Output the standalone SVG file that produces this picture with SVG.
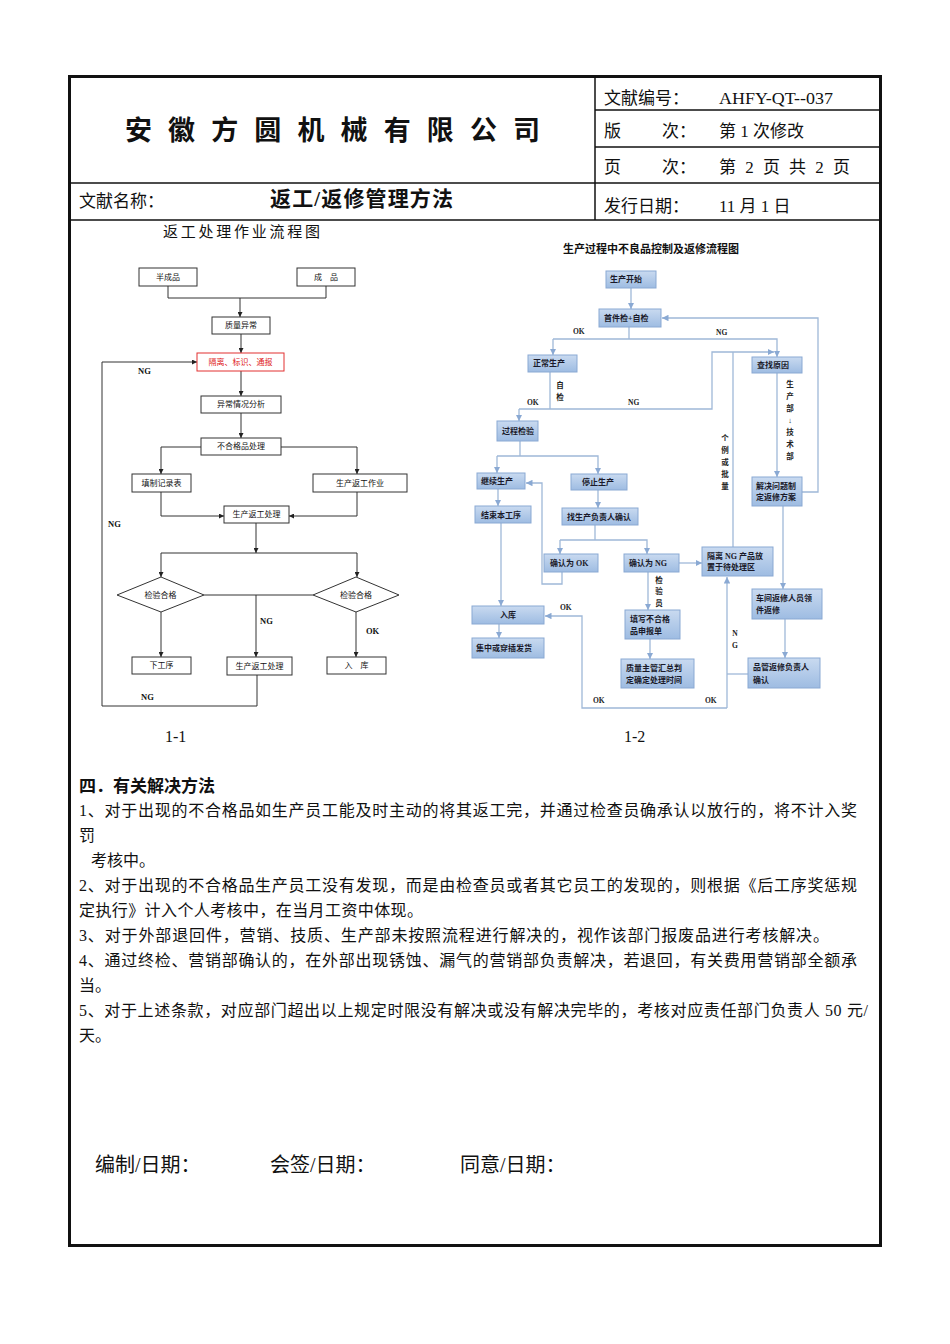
<svg xmlns="http://www.w3.org/2000/svg" width="950" height="1344" viewBox="0 0 950 1344">
<style>
.t{font-family:"Liberation Serif","Noto Sans CJK SC",serif;fill:#111}
.h{font-size:17px}
.b{font-size:16px}
.lbx{font-family:"Liberation Sans","Noto Sans CJK SC",sans-serif;font-size:8px;fill:#111;text-anchor:middle}
.lb{fill:#fff;stroke:#333;stroke-width:1}
.lc{fill:none;stroke:#333;stroke-width:1}
.lab{font-family:"Liberation Serif","Noto Sans CJK SC",serif;font-weight:bold;font-size:8.5px;fill:#111}
.rb{fill:url(#g);stroke:#8aa9d3;stroke-width:1}
.rt{font-family:"Liberation Serif","Noto Sans CJK SC",serif;font-weight:bold;font-size:8px;fill:#1a1a2a}
.rc{fill:none;stroke:#9fb8d8;stroke-width:1.3}
.rl{font-family:"Liberation Serif","Noto Sans CJK SC",serif;font-weight:bold;font-size:7.5px;fill:#222}
.grid{stroke:#111;stroke-width:1.5;fill:none}
</style>
<defs>
<linearGradient id="g" x1="0" y1="0" x2="0" y2="1">
<stop offset="0" stop-color="#c9daf0"/>
<stop offset="1" stop-color="#9ebce2"/>
</linearGradient>
<marker id="ak" viewBox="0 0 10 10" refX="10" refY="5" markerWidth="5" markerHeight="5" orient="auto"><path d="M0,0 L10,5 L0,10 z" fill="#222"/></marker>
<marker id="ab" viewBox="0 0 10 10" refX="10" refY="5" markerWidth="5" markerHeight="5" orient="auto"><path d="M0,0 L10,5 L0,10 z" fill="#8aa9d3"/></marker>
</defs>
<rect width="950" height="1344" fill="#fff"/>

<g id="frame">
<rect x="69.5" y="76.5" width="811" height="1169" fill="none" stroke="#111" stroke-width="3"/>
<line class="grid" x1="595" y1="76" x2="595" y2="220"/>
<line class="grid" x1="595" y1="110" x2="881" y2="110"/>
<line class="grid" x1="595" y1="147" x2="881" y2="147"/>
<line class="grid" x1="69" y1="183" x2="881" y2="183"/>
<line class="grid" x1="69" y1="220" x2="881" y2="220"/>
</g>

<g id="header">
<text class="t" x="125" y="140" font-size="27" font-weight="bold" textLength="415" lengthAdjust="spacing">安徽方圆机械有限公司</text>
<text class="t h" x="604" y="104">文献编号：</text>
<text class="t h" x="719" y="104" textLength="114" lengthAdjust="spacingAndGlyphs">AHFY-QT--037</text>
<text class="t h" x="604" y="137">版</text><text class="t h" x="662" y="137">次：</text>
<text class="t h" x="719" y="137">第 1 次修改</text>
<text class="t h" x="604" y="173">页</text><text class="t h" x="662" y="173">次：</text>
<text class="t h" x="719" y="173" textLength="131" lengthAdjust="spacing">第 2 页 共 2 页</text>
<text class="t h" x="79" y="207">文献名称：</text>
<text class="t" x="270" y="206" font-size="21" font-weight="bold" textLength="183" lengthAdjust="spacing">返工/返修管理方法</text>
<text class="t h" x="604" y="212">发行日期：</text>
<text class="t h" x="719" y="212">11 月 1 日</text>
</g>

<g id="chart1">
<text class="t" x="163" y="237" font-size="15" fill="#333" textLength="157" lengthAdjust="spacing">返工处理作业流程图</text>
<g id="c1-connectors">
<path class="lc" d="M168,286 V298 H326 V286"/>
<path class="lc" d="M240,298 V317" marker-end="url(#ak)"/>
<path class="lc" d="M241,334 V353" marker-end="url(#ak)"/>
<path class="lc" d="M241,371 V396" marker-end="url(#ak)"/>
<path class="lc" d="M241,413 V438" marker-end="url(#ak)"/>
<path class="lc" d="M201,447 H161 V474" marker-end="url(#ak)"/>
<path class="lc" d="M281,447 H357 V474" marker-end="url(#ak)"/>
<path class="lc" d="M161,492 V516 H224" marker-end="url(#ak)"/>
<path class="lc" d="M357,492 V516 H289" marker-end="url(#ak)"/>
<path class="lc" d="M256,523 V553" marker-end="url(#ak)"/>
<path class="lc" d="M256,553 H161 V577" marker-end="url(#ak)"/>
<path class="lc" d="M256,553 H357 V577" marker-end="url(#ak)"/>
<path class="lc" d="M204,595 H313"/>
<path class="lc" d="M256,595 V657" marker-end="url(#ak)"/>
<path class="lc" d="M161,612 V657" marker-end="url(#ak)"/>
<path class="lc" d="M356,612 V657" marker-end="url(#ak)"/>
<path class="lc" d="M257,675 V706 H102 V362 H197" marker-end="url(#ak)"/>
</g>
<g id="c1-n1"><rect class="lb" x="139" y="268" width="58" height="18"/><text class="lbx" x="168" y="280">半成品</text></g>
<g id="c1-n2"><rect class="lb" x="297" y="268" width="58" height="18"/><text class="lbx" x="326" y="280">成　品</text></g>
<g id="c1-n3"><rect class="lb" x="212" y="317" width="58" height="17"/><text class="lbx" x="241" y="328">质量异常</text></g>
<g id="c1-n4"><rect x="197" y="353" width="87" height="18" fill="#fff" stroke="#e23030" stroke-width="1"/><text class="lbx" x="240.5" y="365" style="fill:#e02020">隔离、标识、通报</text></g>
<g id="c1-n5"><rect class="lb" x="201" y="396" width="80" height="17"/><text class="lbx" x="241" y="407">异常情况分析</text></g>
<g id="c1-n6"><rect class="lb" x="201" y="438" width="80" height="17"/><text class="lbx" x="241" y="449">不合格品处理</text></g>
<g id="c1-n7"><rect class="lb" x="132" y="474" width="59" height="18"/><text class="lbx" x="161.5" y="486">填制记录表</text></g>
<g id="c1-n8"><rect class="lb" x="313" y="474" width="94" height="18"/><text class="lbx" x="360" y="486">生产返工作业</text></g>
<g id="c1-n9"><rect class="lb" x="224" y="506" width="65" height="17"/><text class="lbx" x="256.5" y="517">生产返工处理</text></g>
<g id="c1-n10"><polygon class="lb" points="117,595 161,577 204,595 161,612"/><text class="lbx" x="160.5" y="598">检验合格</text></g>
<g id="c1-n11"><polygon class="lb" points="313,595 356,577 399,595 356,612"/><text class="lbx" x="356" y="598">检验合格</text></g>
<g id="c1-n12"><rect class="lb" x="132" y="657" width="59" height="17"/><text class="lbx" x="161.5" y="668">下工序</text></g>
<g id="c1-n13"><rect class="lb" x="227" y="657" width="65" height="18"/><text class="lbx" x="259.5" y="669">生产返工处理</text></g>
<g id="c1-n14"><rect class="lb" x="327" y="657" width="59" height="17"/><text class="lbx" x="356.5" y="668">入　库</text></g>
<text class="lab" x="138" y="374">NG</text>
<text class="lab" x="108" y="527">NG</text>
<text class="lab" x="260" y="624">NG</text>
<text class="lab" x="366" y="634">OK</text>
<text class="lab" x="141" y="700">NG</text>
</g>

<g id="chart2">
<text class="t" x="651" y="253" font-size="11" font-weight="bold" text-anchor="middle">生产过程中不良品控制及返修流程图</text>
<g id="c2-connectors">
<path class="rc" d="M631,288 V309" marker-end="url(#ab)"/>
<path class="rc" d="M629,327 V339"/>
<path class="rc" d="M553,339 H777 V357" marker-end="url(#ab)"/>
<path class="rc" d="M553,339 V355" marker-end="url(#ab)"/>
<path class="rc" d="M550,372 V409"/>
<path class="rc" d="M519,409 H712 V352 H774" marker-end="url(#ab)"/>
<path class="rc" d="M733,352 V547"/>
<path class="rc" d="M519,409 V421" marker-end="url(#ab)"/>
<path class="rc" d="M520,441 V456"/>
<path class="rc" d="M497,456 H598 V474" marker-end="url(#ab)"/>
<path class="rc" d="M497,456 V473" marker-end="url(#ab)"/>
<path class="rc" d="M598,490 V508" marker-end="url(#ab)"/>
<path class="rc" d="M595,525 V540"/>
<path class="rc" d="M560,540 H647 V554" marker-end="url(#ab)"/>
<path class="rc" d="M560,540 V554" marker-end="url(#ab)"/>
<path class="rc" d="M679,563 H702" marker-end="url(#ab)"/>
<path class="rc" d="M562,572 V584 H542 V483 H526" marker-end="url(#ab)"/>
<path class="rc" d="M498,489 V506" marker-end="url(#ab)"/>
<path class="rc" d="M501,523 V606" marker-end="url(#ab)"/>
<path class="rc" d="M499,624 V638" marker-end="url(#ab)"/>
<path class="rc" d="M648,572 V610" marker-end="url(#ab)"/>
<path class="rc" d="M650,639 V659" marker-end="url(#ab)"/>
<path class="rc" d="M777,373 V477" marker-end="url(#ab)"/>
<path class="rc" d="M802,492 H818 V318 H662" marker-end="url(#ab)"/>
<path class="rc" d="M783,506 V589" marker-end="url(#ab)"/>
<path class="rc" d="M785,619 V658" marker-end="url(#ab)"/>
<path class="rc" d="M748,674 H727"/>
<path class="rc" d="M727,708 V577" marker-end="url(#ab)"/>
<path class="rc" d="M727,708 H582 V616 H545" marker-end="url(#ab)"/>
</g>
<g id="c2-n1"><rect class="rb" x="606" y="271" width="50" height="17"/><text class="rt" x="610" y="282">生产开始</text></g>
<g id="c2-n2"><rect class="rb" x="599" y="309" width="62" height="18"/><text class="rt" x="604" y="321">首件检+自检</text></g>
<g id="c2-n3"><rect class="rb" x="528" y="355" width="49" height="17"/><text class="rt" x="533" y="366">正常生产</text></g>
<g id="c2-n4"><rect class="rb" x="752" y="357" width="50" height="16"/><text class="rt" x="757" y="368">查找原因</text></g>
<g id="c2-n5"><rect class="rb" x="497" y="421" width="41" height="20"/><text class="rt" x="502" y="434" font-weight="normal">过程检验</text></g>
<g id="c2-n6"><rect class="rb" x="477" y="473" width="48" height="16"/><text class="rt" x="481" y="484">继续生产</text></g>
<g id="c2-n7"><rect class="rb" x="571" y="474" width="56" height="16"/><text class="rt" x="582" y="485">停止生产</text></g>
<g id="c2-n8"><rect class="rb" x="475" y="506" width="56" height="17"/><text class="rt" x="481" y="518">结束本工序</text></g>
<g id="c2-n9"><rect class="rb" x="562" y="508" width="76" height="17"/><text class="rt" x="567" y="520">找生产负责人确认</text></g>
<g id="c2-n10"><rect class="rb" x="752" y="477" width="50" height="29"/><text class="rt" x="756" y="489">解决问题制</text><text class="rt" x="756" y="500">定返修方案</text></g>
<g id="c2-n11"><rect class="rb" x="544" y="554" width="54" height="18"/><text class="rt" x="550" y="566">确认为 OK</text></g>
<g id="c2-n12"><rect class="rb" x="624" y="554" width="55" height="18"/><text class="rt" x="629" y="566">确认为 NG</text></g>
<g id="c2-n13"><rect class="rb" x="702" y="547" width="71" height="29"/><text class="rt" x="707" y="559">隔离 NG 产品放</text><text class="rt" x="707" y="570">置于待处理区</text></g>
<g id="c2-n14"><rect class="rb" x="752" y="589" width="70" height="30"/><text class="rt" x="756" y="601">车间返修人员领</text><text class="rt" x="756" y="613">件返修</text></g>
<g id="c2-n15"><rect class="rb" x="472" y="606" width="72" height="18"/><text class="rt" x="508" y="618" text-anchor="middle">入库</text></g>
<g id="c2-n16"><rect class="rb" x="625" y="610" width="55" height="29"/><text class="rt" x="630" y="622">填写不合格</text><text class="rt" x="630" y="634">品申报单</text></g>
<g id="c2-n17"><rect class="rb" x="472" y="638" width="72" height="20"/><text class="rt" x="476" y="651">集中或穿插发货</text></g>
<g id="c2-n18"><rect class="rb" x="621" y="659" width="73" height="29"/><text class="rt" x="626" y="671">质量主管汇总判</text><text class="rt" x="626" y="683">定确定处理时间</text></g>
<g id="c2-n19"><rect class="rb" x="748" y="658" width="72" height="30"/><text class="rt" x="753" y="670">品管返修负责人</text><text class="rt" x="753" y="683">确认</text></g>
<text class="rl" x="573" y="334">OK</text>
<text class="rl" x="716" y="335">NG</text>
<text class="rl" x="527" y="405">OK</text>
<text class="rl" x="628" y="405">NG</text>
<text class="rl" x="560" y="610">OK</text>
<text class="rl" x="593" y="703">OK</text>
<text class="rl" x="705" y="703">OK</text>
<g class="rl" text-anchor="middle">
<text x="560" y="388">自</text><text x="560" y="400">检</text>
<text x="725" y="441">个</text><text x="725" y="453">例</text><text x="725" y="465">或</text><text x="725" y="477">批</text><text x="725" y="489">量</text>
<text x="790" y="387">生</text><text x="790" y="399">产</text><text x="790" y="411">部</text><text x="790" y="423">↓</text><text x="790" y="435">技</text><text x="790" y="447">术</text><text x="790" y="459">部</text>
<text x="659" y="583">检</text><text x="659" y="594">验</text><text x="659" y="606">员</text>
<text x="735" y="636">N</text><text x="735" y="648">G</text>
</g>
</g>

<g id="captions">
<text class="t" x="165" y="742" font-size="16">1-1</text>
<text class="t" x="624" y="742" font-size="16">1-2</text>
</g>

<g id="body">
<text class="t" x="79" y="792" font-size="17" font-weight="bold">四．有关解决方法</text>
<text class="t b" x="79" y="816" textLength="778" lengthAdjust="spacing">1、对于出现的不合格品如生产员工能及时主动的将其返工完，并通过检查员确承认以放行的，将不计入奖</text>
<text class="t b" x="79" y="841">罚</text>
<text class="t b" x="91" y="866">考核中。</text>
<text class="t b" x="79" y="891" textLength="778" lengthAdjust="spacing">2、对于出现的不合格品生产员工没有发现，而是由检查员或者其它员工的发现的，则根据《后工序奖惩规</text>
<text class="t b" x="79" y="916" textLength="344" lengthAdjust="spacing">定执行》计入个人考核中，在当月工资中体现。</text>
<text class="t b" x="79" y="941" textLength="750" lengthAdjust="spacing">3、对于外部退回件，营销、技质、生产部未按照流程进行解决的，视作该部门报废品进行考核解决。</text>
<text class="t b" x="79" y="966" textLength="778" lengthAdjust="spacing">4、通过终检、营销部确认的，在外部出现锈蚀、漏气的营销部负责解决，若退回，有关费用营销部全额承</text>
<text class="t b" x="79" y="991">当。</text>
<text class="t b" x="79" y="1016" textLength="789" lengthAdjust="spacing">5、对于上述条款，对应部门超出以上规定时限没有解决或没有解决完毕的，考核对应责任部门负责人 50 元/</text>
<text class="t b" x="79" y="1041">天。</text>
</g>

<g id="footer">
<text class="t" x="95" y="1172" font-size="20">编制/日期：</text>
<text class="t" x="270" y="1172" font-size="20">会签/日期：</text>
<text class="t" x="460" y="1172" font-size="20">同意/日期：</text>
</g>
</svg>
